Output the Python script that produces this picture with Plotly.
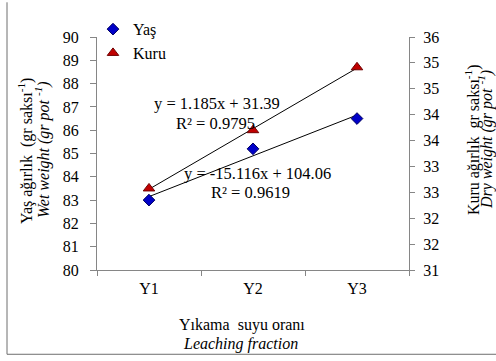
import numpy as np
import plotly.graph_objects as go

# Leaching fraction levels and plant weights
categories = ["Y1", "Y2", "Y3"]
yas = [83.0, 85.2, 86.5]        # wet weight, left axis
kuru = [32.75, 34.0, 35.35]     # dry weight, right axis

left_ticks = list(range(80, 91))
right_ticks = [31 + k * 5 / 9 for k in range(10)]
right_ticktext = [str(int(np.floor(v + 0.5))) for v in right_ticks]

eq_kuru = ["y = 1.185x + 31.39", "R² = 0.9795"]
eq_yas = ["y = -15.116x + 104.06", "R² = 0.9619"]

SERIF = "Liberation Serif"
AXIS_GRAY = "#868686"

# linear trend lines over the category index
xi = np.arange(len(categories))
fit_yas = np.polyval(np.polyfit(xi, yas, 1), xi)
fit_kuru = np.polyval(np.polyfit(xi, kuru, 1), xi)

fig = go.Figure()

fig.add_trace(go.Scatter(
    x=categories, y=list(fit_kuru), mode="lines", yaxis="y2",
    line=dict(color="black", width=1), showlegend=False, hoverinfo="skip"))
fig.add_trace(go.Scatter(
    x=categories, y=list(fit_yas), mode="lines",
    line=dict(color="black", width=1), showlegend=False, hoverinfo="skip"))

fig.add_trace(go.Scatter(
    x=categories, y=yas, mode="markers", name="Yaş",
    marker=dict(symbol="diamond", size=9, color="#0000c8",
                line=dict(color="#000060", width=1))))
fig.add_trace(go.Scatter(
    x=categories, y=kuru, mode="markers", name="Kuru", yaxis="y2",
    marker=dict(symbol="triangle-up", size=10, color="#c00000",
                line=dict(color="#700000", width=1))))

W, H = 496, 361
L, R, T, B = 97, 409, 35, 270


def px(x):
    return (x - L) / (R - L)


def py(y):
    return (B - y) / (B - T)


tick_font = dict(family=SERIF, size=16, color="black")

fig.update_layout(
    width=W, height=H,
    margin=dict(l=L, r=W - R, t=T, b=H - B),
    paper_bgcolor="white", plot_bgcolor="white",
    font=dict(family=SERIF, size=16, color="black"),
    xaxis=dict(type="category", categoryorder="array", categoryarray=categories,
               range=[-0.5, 2.5], tickson="boundaries", ticks="outside",
               ticklen=5, tickcolor=AXIS_GRAY, showline=True, linecolor=AXIS_GRAY,
               linewidth=1, showgrid=False, zeroline=False, tickfont=tick_font,
               ticklabelstandoff=4),
    yaxis=dict(range=[80, 90], tickvals=left_ticks, ticks="outside", ticklen=6,
               tickcolor=AXIS_GRAY, showline=True, linecolor=AXIS_GRAY, linewidth=1,
               showgrid=False, zeroline=False, tickfont=tick_font,
               ticklabelstandoff=8),
    yaxis2=dict(range=[31, 36], overlaying="y", side="right", tickvals=right_ticks,
                ticktext=right_ticktext, ticks="outside", ticklen=5,
                tickcolor=AXIS_GRAY, showline=True, linecolor=AXIS_GRAY,
                linewidth=1, showgrid=False, zeroline=False, tickfont=tick_font,
                ticklabelstandoff=5),
    legend=dict(x=px(93), y=py(10), xanchor="left", yanchor="top",
                itemwidth=30, font=dict(family=SERIF, size=16, color="black"),
                bgcolor="rgba(0,0,0,0)", tracegroupgap=0),
    showlegend=True,
)

annotations = [
    # left axis title
    dict(x=px(25), y=py(150), text="Yaş ağırlık  (gr saksı<sup>-1</sup>)", textangle=-90, size=16),
    dict(x=px(42), y=py(148), text="<i>Wet weight (gr pot <sup>-1</sup>)</i>", textangle=-90, size=16),
    # right axis title
    dict(x=px(472), y=py(139), text="Kuru ağırlık  gr saksı<sup>-1</sup>)", textangle=-90, size=16),
    dict(x=px(485), y=py(139), text="<i>Dry weight (gr pot <sup>-1</sup>)</i>", textangle=-90, size=16),
    # x axis title
    dict(x=px(242), y=py(325), text="Yıkama  suyu oranı", size=16),
    dict(x=px(240), y=py(345), text="<i>Leaching fraction</i>", size=16),
    # trend line equations
    dict(x=px(217), y=py(102), text=eq_kuru[0], size=16.5),
    dict(x=px(215), y=py(122), text=eq_kuru[1], size=16.5),
    dict(x=px(257), y=py(173), text=eq_yas[0], size=16.5),
    dict(x=px(250), y=py(192), text=eq_yas[1], size=16.5),
]
for a in annotations:
    size = a.pop("size")
    fig.add_annotation(xref="paper", yref="paper", showarrow=False,
                       xanchor="center", yanchor="middle",
                       font=dict(family=SERIF, size=size, color="black"), **a)

# outer frame (left and bottom edges)
fig.add_shape(type="path", xref="paper", yref="paper",
              path=f"M {px(7)} {py(0)} L {px(7)} {py(355)} L {px(497)} {py(355)}",
              line=dict(color="#6e6e6e", width=1))

fig.write_html("out.html")
